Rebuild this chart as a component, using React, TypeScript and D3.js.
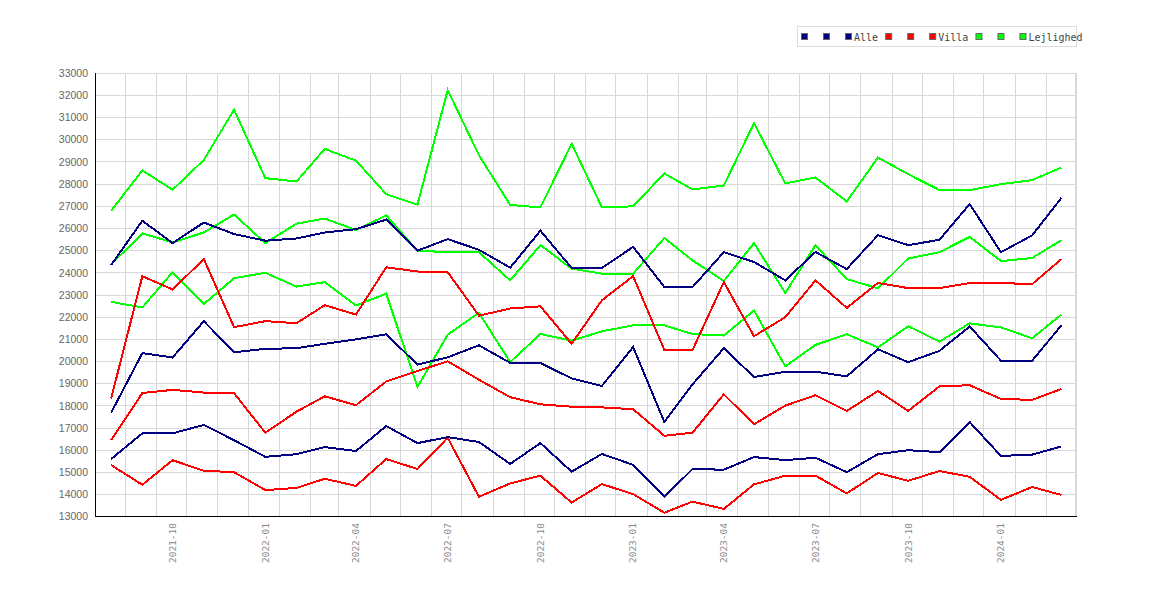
import * as d3 from 'd3'
import { useEffect, useRef } from 'react'

const months = [
    '2021-08', '2021-09', '2021-10', '2021-11', '2021-12',
    '2022-01', '2022-02', '2022-03', '2022-04', '2022-05', '2022-06',
    '2022-07', '2022-08', '2022-09', '2022-10', '2022-11', '2022-12',
    '2023-01', '2023-02', '2023-03', '2023-04', '2023-05', '2023-06',
    '2023-07', '2023-08', '2023-09', '2023-10', '2023-11', '2023-12',
    '2024-01', '2024-02', '2024-03'
]

const tickLabels = [
    '2021-10', '2022-01', '2022-04', '2022-07', '2022-10',
    '2023-01', '2023-04', '2023-07', '2023-10', '2024-01'
]

const alleHigh = [24350, 26350, 25340, 26270, 25750, 25450, 25550, 25820, 25970, 26400, 25000, 25520, 25040, 24230, 25900, 24220, 24220, 25170, 23360, 23360, 24930, 24490, 23660, 24940, 24170, 25700, 25250, 25490, 27100, 24930, 25690, 27380]
const alleMid = [17690, 20380, 20180, 21820, 20420, 20570, 20600, 20800, 21000, 21230, 19860, 20190, 20730, 19940, 19930, 19240, 18900, 20650, 17270, 18970, 20600, 19300, 19540, 19540, 19330, 20550, 19970, 20480, 21580, 20040, 20040, 21630]
const alleLow = [15600, 16760, 16760, 17140, 16450, 15700, 15820, 16140, 15960, 17090, 16320, 16590, 16370, 15380, 16320, 15030, 15830, 15340, 13900, 15150, 15120, 15690, 15550, 15660, 15010, 15820, 16000, 15910, 17270, 15740, 15800, 16170]

const villaHigh = [18330, 23850, 23250, 24620, 21550, 21820, 21730, 22540, 22120, 24250, 24060, 24030, 22070, 22390, 22490, 20800, 22760, 23850, 20520, 20520, 23580, 21140, 22000, 23660, 22420, 23540, 23310, 23310, 23540, 23540, 23490, 24620]
const villaMid = [16450, 18580, 18720, 18600, 18570, 16790, 17740, 18430, 18030, 19100, 19570, 20010, 19180, 18390, 18070, 17960, 17930, 17850, 16650, 16790, 18520, 17170, 18010, 18480, 17770, 18670, 17770, 18880, 18930, 18310, 18270, 18760]
const villaLow = [15330, 14440, 15550, 15070, 15010, 14200, 14300, 14710, 14390, 15600, 15150, 16560, 13900, 14500, 14850, 13640, 14470, 14020, 13180, 13680, 13350, 14460, 14850, 14850, 14050, 14970, 14620, 15060, 14800, 13760, 14340, 13980]

const lejlHigh = [26800, 28620, 27750, 29090, 31360, 28270, 28120, 29590, 29060, 27550, 27080, 32240, 29310, 27060, 26950, 29820, 26950, 27000, 28480, 27760, 27940, 30750, 28030, 28300, 27220, 29200, 28450, 27730, 27730, 28000, 28180, 28750]
const lejlMid = [24380, 25780, 25370, 25820, 26630, 25340, 26220, 26450, 25930, 26590, 24990, 24940, 24930, 23660, 25250, 24190, 23960, 23960, 25570, 24560, 23630, 25340, 23090, 25250, 23720, 23300, 24650, 24930, 25620, 24530, 24670, 25470]
const lejlLow = [22690, 22440, 24030, 22590, 23760, 24000, 23380, 23580, 22530, 23060, 18850, 21210, 22200, 19970, 21240, 20940, 21360, 21630, 21630, 21240, 21170, 22300, 19780, 20750, 21230, 20640, 21590, 20900, 21720, 21540, 21050, 22120]

const groups = [
    { name: 'Alle', color: '#000080', series: [alleHigh, alleMid, alleLow] },
    { name: 'Villa', color: '#ff0000', series: [villaHigh, villaMid, villaLow] },
    { name: 'Lejlighed', color: '#00ff00', series: [lejlHigh, lejlMid, lejlLow] }
]

const W = 1170
const H = 600

// "2021-08" -> Date on that day of the month (UTC)
function monthDate(m: string, day = 1) {
    const [y, mo] = m.split('-').map(Number)
    return new Date(Date.UTC(y, mo - 1, day))
}

function drawChart(ref: any) {
    const left = 95, right = 1076.5, top = 73.3, bottom = 516.7

    const svg = d3.select(ref.current)
    svg.selectAll('*').remove()

    const x = d3.scaleUtc()
        .domain([new Date(Date.UTC(2021, 6, 16)), new Date(Date.UTC(2024, 2, 16))])
        .range([left, right])

    const y = d3.scaleLinear()
        .domain([13000, 33000])
        .range([bottom, top])

    const grid = svg.append('g')
        .attr('stroke', '#d8d8d8')
        .attr('stroke-width', 1)
        .attr('shape-rendering', 'crispEdges')

    // horizontal grid
    grid.selectAll('line.h')
        .data(y.ticks(20))
        .enter().append('line')
        .attr('x1', left).attr('x2', right)
        .attr('y1', d => y(d)).attr('y2', d => y(d))

    // vertical grid sits mid-month
    grid.selectAll('line.v')
        .data(months)
        .enter().append('line')
        .attr('x1', d => x(monthDate(d, 15))).attr('x2', d => x(monthDate(d, 15)))
        .attr('y1', top).attr('y2', bottom)

    grid.append('rect')
        .attr('x', left).attr('y', top)
        .attr('width', right - left).attr('height', bottom - top)
        .attr('fill', 'none')

    // axis lines
    svg.append('line')
        .attr('x1', left).attr('x2', left).attr('y1', top).attr('y2', bottom)
        .attr('stroke', '#000').attr('shape-rendering', 'crispEdges')
    svg.append('line')
        .attr('x1', left).attr('x2', right).attr('y1', bottom).attr('y2', bottom)
        .attr('stroke', '#000').attr('shape-rendering', 'crispEdges')

    // y labels
    svg.append('g').selectAll('text')
        .data(y.ticks(20))
        .enter().append('text')
        .attr('x', 88)
        .attr('y', d => y(d))
        .attr('dy', '0.35em')
        .attr('text-anchor', 'end')
        .attr('fill', '#666')
        .style('font-family', '"Liberation Sans", Arial, sans-serif')
        .style('font-size', '10.5px')
        .text(d => String(d))

    // x labels, rotated
    svg.append('g').selectAll('text')
        .data(tickLabels)
        .enter().append('text')
        .attr('transform', d => `translate(${x(monthDate(d))},523) rotate(-90)`)
        .attr('dy', '0.35em')
        .attr('text-anchor', 'end')
        .attr('fill', '#888')
        .style('font-family', '"DejaVu Sans Mono", monospace')
        .style('font-size', '9.5px')
        .text(d => d)

    const line = d3.line<number>()
        .x((_, i) => x(monthDate(months[i])))
        .y(d => y(d))

    // green first, navy on top
    const drawOrder = [groups[2], groups[1], groups[0]]
    drawOrder.forEach(g => {
        g.series.forEach(s => {
            svg.append('path')
                .datum(s)
                .attr('d', line)
                .attr('fill', 'none')
                .attr('stroke', g.color)
                .attr('stroke-width', 2)
                .attr('shape-rendering', 'crispEdges')
        })
    })

    // legend
    const lg = svg.append('g')
    lg.append('rect')
        .attr('x', 797.5).attr('y', 26.5)
        .attr('width', 279).attr('height', 20)
        .attr('fill', '#fff')
        .attr('stroke', '#ddd')

    let lx = 801
    groups.forEach(g => {
        for (let k = 0; k < 3; k++) {
            lg.append('rect')
                .attr('x', lx + k * 22 + 0.5).attr('y', 33.5)
                .attr('width', 6).attr('height', 6)
                .attr('fill', g.color)
                .attr('stroke', '#666')
                .attr('stroke-width', 1)
        }
        lg.append('text')
            .attr('x', lx + 53)
            .attr('y', 40.5)
            .attr('fill', '#444')
            .style('font-family', '"DejaVu Sans Mono", monospace')
            .style('font-size', '10px')
            .text(g.name)
        lx += 60 + g.name.length * 6.05
    })
}

export default function App() {
    const svgRef = useRef(null) as any

    useEffect(() => {
        drawChart(svgRef)
    }, [])

    return (
        <svg ref={svgRef} width={W} height={H}
            style={{ position: 'absolute', left: 0, top: 0, background: '#fff' }} />
    )
}
